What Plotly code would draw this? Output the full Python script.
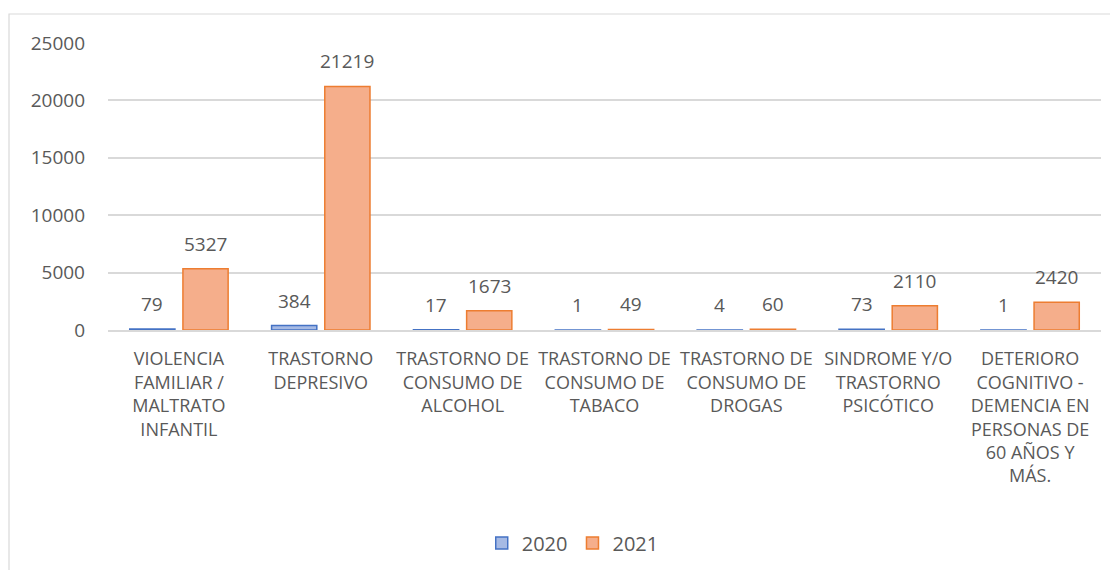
import plotly.graph_objects as go

categories = [
    "VIOLENCIA<br>FAMILIAR /<br>MALTRATO<br>INFANTIL",
    "TRASTORNO<br>DEPRESIVO",
    "TRASTORNO DE<br>CONSUMO DE<br>ALCOHOL",
    "TRASTORNO DE<br>CONSUMO DE<br>TABACO",
    "TRASTORNO DE<br>CONSUMO DE<br>DROGAS",
    "SINDROME Y/O<br>TRASTORNO<br>PSICÓTICO",
    "DETERIORO<br>COGNITIVO -<br>DEMENCIA EN<br>PERSONAS DE<br>60 AÑOS Y<br>MÁS.",
]
values_2020 = [79, 384, 17, 1, 4, 73, 1]
values_2021 = [5327, 21219, 1673, 49, 60, 2110, 2420]
series_names = ["2020", "2021"]
y_ticks = [0, 5000, 10000, 15000, 20000, 25000]
y_ticktext = ["0", "5000", "10000", "15000", "20000", "25000"]

FONT = "Open Sans, Noto Sans, sans-serif"
GREY = "#595959"

fig = go.Figure()
fig.add_trace(go.Bar(
    name=series_names[0], x=categories, y=values_2020,
    marker=dict(color="#A6BAE4", line=dict(color="#4472C4", width=1.5)),
))
fig.add_trace(go.Bar(
    name=series_names[1], x=categories, y=values_2021,
    marker=dict(color="#F5AE8B", line=dict(color="#ED7D31", width=1.5)),
))

annotations = []
for vals, shift in ((values_2020, -26.6), (values_2021, 26.6)):
    for c, v in zip(categories, vals):
        annotations.append(dict(
            x=c, y=v, xref="x", yref="y", text=str(v), showarrow=False,
            xshift=shift, yshift=25, yanchor="middle",
            font=dict(family=FONT, size=19, color=GREY),
        ))

fig.update_layout(
    width=1118, height=570,
    margin=dict(l=100, r=25, t=35, b=248, autoexpand=False),
    paper_bgcolor="white", plot_bgcolor="white",
    barmode="group", bargap=0.25, bargroupgap=0.15,
    font=dict(family=FONT, color=GREY),
    showlegend=True,
    legend=dict(orientation="h", x=0.468, xanchor="center", y=-0.742, yanchor="middle",
                font=dict(family=FONT, size=20, color=GREY), itemwidth=30,
                traceorder="normal"),
    annotations=annotations,
    shapes=[dict(type="rect", xref="paper", yref="paper",
                 x0=-0.0997, x1=1.05, y0=-0.9, y1=1.101,
                 line=dict(color="#D9D9D9", width=1.2), fillcolor="rgba(0,0,0,0)",
                 layer="below")],
)
fig.update_yaxes(
    range=[0, 25000], tickvals=y_ticks, ticktext=y_ticktext, showgrid=True,
    gridcolor="#D9D9D9", gridwidth=1.5, automargin=False,
    zeroline=False, showline=False, ticklabelstandoff=22,
    tickfont=dict(family=FONT, size=19, color=GREY),
)
fig.update_xaxes(
    showline=True, linecolor="#D9D9D9", linewidth=1.5, tickangle=0, automargin=False,
    ticklabelstandoff=12, tickfont=dict(family=FONT, size=18, color=GREY),
)

fig.write_html("out.html")
